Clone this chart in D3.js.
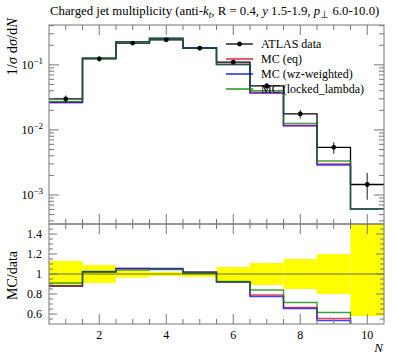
<!DOCTYPE html>
<html><head><meta charset="utf-8">
<script src="https://cdn.jsdelivr.net/npm/d3@7"></script>
<style>body{margin:0;background:#fff}svg{display:block}text{font-family:"Liberation Serif",serif;fill:#000}</style>
</head><body><svg id="c" width="397" height="358"></svg>
<script>
const bins = [1,2,3,4,5,6,7,8,9,10];
const dataVals = [0.030, 0.124, 0.216, 0.243, 0.180, 0.110, 0.0475, 0.0176, 0.0054, 0.00145];
const dataErrUp = [0.13, 0.09, 0.035, 0.02, 0.03, 0.07, 0.11, 0.15, 0.20, 0.50];
const dataErrDn = [0.13, 0.09, 0.035, 0.02, 0.03, 0.07, 0.11, 0.15, 0.20, 0.42];
const mcEq = [0.0264, 0.1265, 0.2279, 0.2552, 0.1827, 0.1012, 0.03753, 0.0117, 0.0030, 0.00061];
const mcWz = [0.0264, 0.1271, 0.2279, 0.2564, 0.1836, 0.1012, 0.03681, 0.01153, 0.00289, 0.00061];
const mcLocked = [0.0273, 0.1265, 0.2246, 0.2539, 0.1809, 0.1018, 0.0399, 0.01258, 0.00332, 0.00061];
const xTickLabels = [2,4,6,8,10];
const yDecades = [1e-3, 1e-2, 1e-1];
const yDecadeLabels = ["\u22123","\u22122","\u22121"];
const ratioTicks = [0.6, 0.8, 1, 1.2, 1.4];
const ratioTickLabels = ["0.6","0.8","1","1.2","1.4"];
const legendLabels = ["ATLAS data","MC (eq)","MC (wz-weighted)","MC (locked_lambda)"];
const mcColors = ["#e8000b","#0000ff","#008000"];

const svg = d3.select("#c");
const L=49, R=384, T=25, MB=224, RB=324;
const x = d3.scaleLinear().domain([0.5,10.5]).range([L,R]);
const y = d3.scaleLog().domain([3.58e-4,0.41]).range([MB,T]);
const yr = d3.scaleLinear().domain([0.5,1.5]).range([RB,MB]);
const axisCol = "#777";

const defs = svg.append("defs");
defs.append("clipPath").attr("id","cm").append("rect").attr("x",L).attr("y",T).attr("width",R-L).attr("height",MB-T);
defs.append("clipPath").attr("id","cr").append("rect").attr("x",L).attr("y",MB).attr("width",R-L).attr("height",RB-MB);

function stepPath(vals, ys){
  let p = "";
  vals.forEach((v,i)=>{
    const x0=x(bins[i]-0.5), x1=x(bins[i]+0.5), yy=ys(v);
    p += (i===0?"M"+x0+","+yy:"V"+yy) + "H"+x1;
  });
  return p;
}

// title
const title = svg.append("text").attr("x",50).attr("y",15).attr("font-size",12.8);
title.append("tspan").text("Charged jet multiplicity (anti-");
title.append("tspan").attr("font-style","italic").text("k");
title.append("tspan").attr("font-style","italic").attr("font-size",9.5).attr("dy",2.5).text("t");
title.append("tspan").attr("dy",-2.5).text(", R = 0.4, ");
title.append("tspan").attr("font-style","italic").text("y");
title.append("tspan").text(" 1.5-1.9, ");
title.append("tspan").attr("font-style","italic").text("p");
title.append("tspan").attr("font-size",9.5).attr("dy",2.5).text("\u22a5");
title.append("tspan").attr("dy",-2.5).text(" 6.0-10.0)");

// ratio band
const gr = svg.append("g").attr("clip-path","url(#cr)");
gr.selectAll("rect.band").data(bins).join("rect")
  .attr("x",d=>x(d-0.5)).attr("width",d=>x(d+0.5)-x(d-0.5))
  .attr("y",(d,i)=>yr(1+dataErrUp[i])).attr("height",(d,i)=>yr(1-dataErrDn[i])-yr(1+dataErrUp[i]))
  .attr("fill","#ffff00");
gr.append("line").attr("x1",L).attr("x2",R).attr("y1",yr(1)).attr("y2",yr(1)).attr("stroke","#6b6b30").attr("stroke-width",1);
[mcEq,mcWz,mcLocked].forEach((mc,k)=>{
  const ratios = mc.map((v,i)=>v/dataVals[i]);
  gr.append("path").attr("d",stepPath(ratios,yr)).attr("fill","none").attr("stroke",mcColors[k]).attr("stroke-width",1.4).attr("stroke-opacity",0.75);
});

// main histograms
const gm = svg.append("g").attr("clip-path","url(#cm)");
gm.append("path").attr("d",stepPath(dataVals,y)).attr("fill","none").attr("stroke","#000").attr("stroke-width",1.3);
[mcEq,mcWz,mcLocked].forEach((mc,k)=>{
  gm.append("path").attr("d",stepPath(mc,y)).attr("fill","none").attr("stroke",mcColors[k]).attr("stroke-width",1.4).attr("stroke-opacity",0.75);
});
// error bars and points
gm.selectAll("line.err").data(bins).join("line")
  .attr("x1",d=>x(d)).attr("x2",d=>x(d))
  .attr("y1",(d,i)=>y(dataVals[i]*(1+dataErrUp[i]))).attr("y2",(d,i)=>y(dataVals[i]*(1-dataErrDn[i])))
  .attr("stroke","#000").attr("stroke-width",1.3).attr("stroke-opacity",0.7);
gm.selectAll("circle").data(bins).join("circle")
  .attr("cx",d=>x(d)).attr("cy",(d,i)=>y(dataVals[i])).attr("r",2.4).attr("fill","#000");

// frames
[[T,MB],[MB,RB]].forEach(([t,b])=>{
  svg.append("rect").attr("x",L).attr("y",t).attr("width",R-L).attr("height",b-t).attr("fill","none").attr("stroke",axisCol).attr("stroke-width",1);
});

// x ticks
const xMinor = d3.range(1,21).map(d=>d*0.5+0.5).filter(v=>v>0.5&&v<10.5);
const tickG = svg.append("g").attr("stroke",axisCol).attr("stroke-width",1);
[[T,1],[MB,-1],[MB,1],[RB,-1]].forEach(([yy,dir])=>{
  xMinor.forEach(v=>{
    const major = xTickLabels.includes(v);
    const len = major?10:5;
    tickG.append("line").attr("x1",x(v)).attr("x2",x(v)).attr("y1",yy).attr("y2",yy+dir*len);
  });
});
// main y ticks
const yMinor = [];
[1e-4,1e-3,1e-2,1e-1].forEach(d=>{for(let k=1;k<10;k++){const v=k*d; if(v>y.domain()[0]&&v<y.domain()[1]) yMinor.push(v);}});
yMinor.forEach(v=>{
  const major = yDecades.some(d=>Math.abs(d-v)/d<1e-6);
  const len = major?10:5;
  tickG.append("line").attr("x1",L).attr("x2",L+len).attr("y1",y(v)).attr("y2",y(v));
  tickG.append("line").attr("x1",R).attr("x2",R-len).attr("y1",y(v)).attr("y2",y(v));
});
// ratio y ticks
d3.range(11,30).map(k=>k*0.05).forEach(v=>{
  const major = ratioTicks.some(t=>Math.abs(t-v)<1e-6);
  const len = major?8:4;
  tickG.append("line").attr("x1",L).attr("x2",L+len).attr("y1",yr(v)).attr("y2",yr(v));
  tickG.append("line").attr("x1",R).attr("x2",R-len).attr("y1",yr(v)).attr("y2",yr(v));
});

// labels
svg.selectAll("text.xt").data(xTickLabels).join("text").attr("class","xt")
  .attr("x",d=>x(d)).attr("y",339).attr("text-anchor","middle").attr("font-size",12).text(d=>d);
svg.append("text").attr("x",383).attr("y",352).attr("text-anchor","end").attr("font-size",13).attr("font-style","italic").text("N");
yDecades.forEach((d,i)=>{
  const t = svg.append("text").attr("x",43).attr("y",y(d)+4).attr("text-anchor","end").attr("font-size",12);
  t.append("tspan").text("10");
  t.append("tspan").attr("dy",-5).attr("font-size",9).text(yDecadeLabels[i]);
});
ratioTicks.forEach((v,i)=>{
  svg.append("text").attr("x",42).attr("y",yr(v)+4).attr("text-anchor","end").attr("font-size",12).text(ratioTickLabels[i]);
});
const yl = svg.append("text").attr("transform","translate(17,18) rotate(-90)").attr("text-anchor","end").attr("font-size",14.5);
yl.append("tspan").text("1/");
yl.append("tspan").attr("font-style","italic").text("\u03c3");
yl.append("tspan").text(" d");
yl.append("tspan").attr("font-style","italic").text("\u03c3");
yl.append("tspan").text("/d");
yl.append("tspan").attr("font-style","italic").text("N");
svg.append("text").attr("transform","translate(17,251) rotate(-90)").attr("text-anchor","end").attr("font-size",14).text("MC/data");

// legend
const lx0=226, lx1=253, ly=[44,59,74,89];
const lg = svg.append("g");
lg.append("line").attr("x1",lx0).attr("x2",lx1).attr("y1",ly[0]).attr("y2",ly[0]).attr("stroke","#000").attr("stroke-width",1.3);
lg.append("circle").attr("cx",(lx0+lx1)/2).attr("cy",ly[0]).attr("r",2.4).attr("fill","#000");
mcColors.forEach((c,k)=>{
  lg.append("line").attr("x1",lx0).attr("x2",lx1).attr("y1",ly[k+1]).attr("y2",ly[k+1]).attr("stroke",c).attr("stroke-width",1.3);
});
legendLabels.forEach((s,i)=>{
  lg.append("text").attr("x",261).attr("y",ly[i]+4).attr("font-size",12).text(s);
});
</script></body></html>
